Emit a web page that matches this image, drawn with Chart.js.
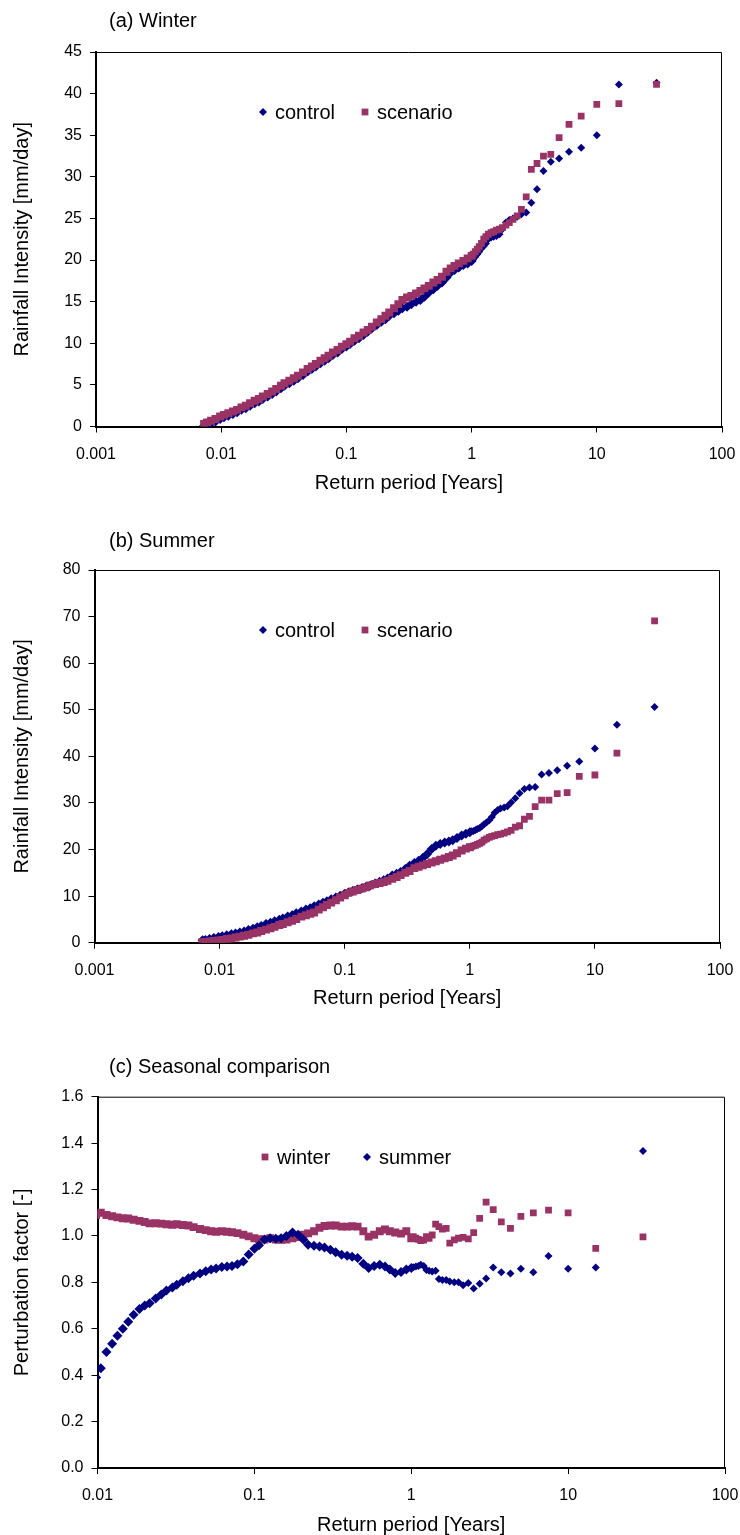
<!DOCTYPE html>
<html>
<head>
<meta charset="utf-8">
<title>Rainfall intensity and perturbation factor vs return period</title>
<script src="https://cdn.jsdelivr.net/npm/chart.js@4.4.1/dist/chart.umd.min.js"></script>
<style>
  body { margin: 0; background: #fff; width: 740px; height: 1535px; position: relative; overflow: hidden;
         font-family: "Liberation Sans", Arial, sans-serif; }
  canvas { position: absolute; left: 0; }
  .ptitle { position: absolute; left: 109px; font-size: 20px; line-height: 24px; color: #000; }
</style>
</head>
<body>
<canvas id="chartA" width="740" height="505" style="top:0px"></canvas>
<canvas id="chartB" width="740" height="520" style="top:505px"></canvas>
<canvas id="chartC" width="740" height="512" style="top:1025px"></canvas>
<div class="ptitle" style="top:8px">(a) Winter</div>
<div class="ptitle" style="top:528px">(b) Summer</div>
<div class="ptitle" style="top:1054px">(c) Seasonal comparison</div>

<script>
// return periods [years], rank order (largest first) - shared by all panels
var returnPeriod = [
  30, 15, 10, 7.5, 6, 5, 4.29, 3.75, 3.33, 3,
  2.73, 2.5, 2.31, 2.14, 2, 1.88, 1.76, 1.67, 1.58, 1.5,
  1.43, 1.36, 1.3, 1.25, 1.2, 1.15, 1.11, 1.07, 1.03, 1.0,
  0.93, 0.86, 0.79, 0.73, 0.68, 0.63, 0.58, 0.535, 0.495, 0.455,
  0.42, 0.39, 0.36, 0.33, 0.305, 0.28, 0.26, 0.24, 0.22, 0.205,
  0.19, 0.175, 0.16, 0.148, 0.137, 0.126, 0.116, 0.107, 0.1, 0.092,
  0.085, 0.078, 0.072, 0.067, 0.062, 0.057, 0.053, 0.049, 0.045, 0.041,
  0.038, 0.035, 0.032, 0.03, 0.0275, 0.0255, 0.0235, 0.0215, 0.02, 0.0185,
  0.017, 0.0157, 0.0145, 0.0134, 0.0124, 0.0114, 0.0105, 0.0098, 0.009, 0.0083,
  0.0077, 0.0073
];

// (a) winter rainfall intensity [mm/day]
var winterControl = [
  41.3, 41.1, 35.0, 33.5, 33.0, 32.2, 31.8, 30.7, 28.5, 26.9,
  25.7, 25.5, 25.2, 25.0, 24.8, 24.5, 23.7, 23.1, 22.9, 22.8,
  22.7, 22.5, 22.0, 21.7, 21.4, 21.0, 20.7, 20.4, 20.1, 19.9,
  19.6, 19.4, 19.1, 18.8, 18.5, 17.9, 17.3, 16.9, 16.5, 16.1,
  15.6, 15.2, 15.0, 14.7, 14.4, 14.2, 13.9, 13.6, 13.3, 12.9,
  12.6, 12.2, 11.8, 11.4, 11.0, 10.6, 10.3, 9.9, 9.6, 9.3,
  8.9, 8.6, 8.2, 7.9, 7.6, 7.2, 6.9, 6.6, 6.2, 5.8,
  5.5, 5.2, 4.9, 4.6, 4.2, 3.9, 3.6, 3.3, 3.0, 2.8,
  2.5, 2.2, 2.0, 1.7, 1.5, 1.3, 1.1, 0.9, 0.6, 0.4,
  0.2, 0.1
];
var winterScenario = [
  41.1, 38.8, 38.7, 37.3, 36.3, 34.7, 32.7, 32.5, 31.6, 30.9,
  27.6, 26.1, 25.3, 24.9, 24.5, 24.2, 23.9, 23.7, 23.6, 23.4,
  23.3, 23.1, 22.8, 22.5, 22.0, 21.6, 21.3, 21.0, 20.7, 20.5,
  20.2, 19.9, 19.6, 19.3, 19.0, 18.6, 18.0, 17.6, 17.3, 16.9,
  16.6, 16.3, 16.0, 15.7, 15.5, 15.2, 14.7, 14.2, 13.7, 13.3,
  12.9, 12.5, 12.0, 11.6, 11.3, 10.9, 10.6, 10.2, 9.9, 9.6,
  9.2, 8.9, 8.5, 8.2, 7.9, 7.5, 7.2, 6.9, 6.5, 6.1,
  5.8, 5.5, 5.2, 4.9, 4.5, 4.2, 3.9, 3.6, 3.3, 3.1,
  2.8, 2.5, 2.3, 2.0, 1.8, 1.6, 1.4, 1.2, 0.9, 0.7,
  0.5, 0.3
];

// (b) summer rainfall intensity [mm/day]
var summerControl = [
  50.6, 46.8, 41.7, 38.9, 38.0, 37.0, 36.4, 36.1, 33.4, 33.3,
  33.0, 32.1, 31.0, 30.1, 29.3, 29.0, 28.8, 28.5, 27.9, 27.0,
  26.3, 25.8, 25.4, 25.0, 24.6, 24.4, 24.2, 24.0, 23.9, 23.7,
  23.4, 23.0, 22.5, 22.0, 21.7, 21.5, 21.2, 20.8, 20.1, 19.0,
  18.2, 17.6, 17.1, 16.5, 15.8, 15.2, 14.8, 14.4, 13.8, 13.4,
  13.1, 12.7, 12.3, 12.0, 11.7, 11.4, 11.1, 10.8, 10.5, 10.1,
  9.7, 9.3, 8.9, 8.6, 8.2, 7.8, 7.4, 7.1, 6.7, 6.3,
  5.9, 5.6, 5.2, 4.9, 4.6, 4.3, 4.0, 3.6, 3.3, 3.0,
  2.7, 2.4, 2.2, 2.0, 1.8, 1.6, 1.4, 1.2, 1.0, 0.8,
  0.6, 0.5
];
var summerScenario = [
  69.1, 40.7, 36.0, 35.7, 32.2, 32.0, 30.6, 30.6, 29.2, 27.1,
  26.5, 25.1, 24.8, 24.1, 23.8, 23.5, 23.3, 23.2, 23.0, 22.8,
  22.6, 22.3, 22.0, 21.6, 21.3, 21.1, 20.9, 20.8, 20.6, 20.5,
  20.2, 19.8, 19.2, 18.7, 18.4, 18.1, 17.8, 17.5, 17.2, 16.9,
  16.6, 16.3, 16.0, 15.4, 15.0, 14.5, 14.1, 13.7, 13.3, 13.0,
  12.8, 12.6, 12.3, 11.9, 11.6, 11.3, 11.0, 10.7, 10.2, 9.7,
  9.1, 8.6, 8.1, 7.6, 7.1, 6.5, 6.2, 5.9, 5.6, 5.1,
  4.7, 4.4, 4.0, 3.8, 3.4, 3.1, 2.8, 2.5, 2.2, 2.0,
  1.7, 1.5, 1.3, 1.1, 0.9, 0.8, 0.6, 0.5, 0.35, 0.25,
  0.18, 0.12
];

// (c) perturbation factor [-] (scenario / control), below 0.01 yr not shown
var winterFactor = [
  0.996, 0.946, 1.099, 1.111, 1.099, 1.084, 1.033, 1.061, 1.113, 1.146,
  1.076, 1.014, 0.987, 0.994, 0.99, 0.983, 0.969, 1.033, 1.029, 1.04,
  1.051, 1.004, 0.99, 0.997, 0.982, 0.98, 0.985, 0.99, 0.997, 0.99,
  1.02, 1.01, 1.015, 1.02, 1.028, 1.02, 1.005, 0.997, 1.02, 1.04,
  1.042, 1.04, 1.04, 1.045, 1.045, 1.043, 1.035, 1.02, 1.011, 1.005,
  0.995, 0.99, 0.985, 0.983, 0.985, 0.99, 0.985, 0.986, 0.99, 0.998,
  1.005, 1.012, 1.016, 1.018, 1.02, 1.018, 1.02, 1.025, 1.03, 1.038,
  1.045, 1.047, 1.05, 1.048, 1.05, 1.053, 1.055, 1.054, 1.06, 1.065,
  1.07, 1.075, 1.076, 1.08, 1.085, 1.09, 1.1, 1.09, null, null,
  null, null
];
var summerFactor = [
  1.366, 0.864, 0.859, 0.914, 0.844, 0.859, 0.838, 0.844, 0.864, 0.817,
  0.794, 0.774, 0.797, 0.788, 0.80, 0.80, 0.804, 0.81, 0.81, 0.814,
  0.85, 0.847, 0.85, 0.853, 0.87, 0.876, 0.87, 0.868, 0.865, 0.862,
  0.855, 0.845, 0.84, 0.855, 0.868, 0.876, 0.87, 0.862, 0.88, 0.905,
  0.91, 0.915, 0.919, 0.93, 0.94, 0.95, 0.955, 0.958, 0.962, 0.985,
  1.005, 1.015, 1.0, 0.99, 0.988, 0.99, 0.985, 0.96, 0.945, 0.92,
  0.89, 0.878, 0.87, 0.868, 0.866, 0.86, 0.855, 0.848, 0.838, 0.828,
  0.818, 0.805, 0.79, 0.778, 0.765, 0.748, 0.73, 0.71, 0.70, 0.685,
  0.66, 0.63, 0.60, 0.57, 0.535, 0.50, 0.43, 0.39, null, null,
  null, null
];

var xTicksAB = [0.001, 0.01, 0.1, 1, 10, 100];
var xTicksC = [0.01, 0.1, 1, 10, 100];

var NAVY = '#000080';
var PLUM = '#993366';
var FONT = '"Liberation Sans", Arial, sans-serif';

Chart.defaults.font.family = FONT;
Chart.defaults.color = '#000';

function points(values) {
  var out = [];
  returnPeriod.forEach(function (t, i) {
    if (values[i] !== null) out.push({ x: t, y: values[i] });
  });
  return out;
}

// below 1 year the ranks are so close that the markers merge into a band
function markerSize(small, big) {
  return function (c) { return c.raw && c.raw.x < 1.02 ? big : small; };
}

function diamondSet(label, values, order) {
  return { label: label, data: points(values), order: order,
    pointStyle: 'rectRot', pointRadius: markerSize(4, 5), pointBorderWidth: 0,
    pointBackgroundColor: NAVY, backgroundColor: NAVY, borderColor: NAVY, showLine: false };
}
function squareSet(label, values, order) {
  return { label: label, data: points(values), order: order,
    pointStyle: 'rect', pointRadius: markerSize(4.8, 5.6), pointBorderWidth: 0,
    pointBackgroundColor: PLUM, backgroundColor: PLUM, borderColor: PLUM, showLine: false };
}

function drawMarker(ctx, style, x, y, color) {
  ctx.fillStyle = color;
  ctx.beginPath();
  if (style === 'rectRot') {
    ctx.moveTo(x, y - 4); ctx.lineTo(x + 4, y); ctx.lineTo(x, y + 4); ctx.lineTo(x - 4, y);
  } else {
    ctx.rect(x - 3.4, y - 3.4, 6.8, 6.8);
  }
  ctx.closePath();
  ctx.fill();
}

// thin frame on top/right of the plot area + legend placed inside the plot
var framePlugin = {
  id: 'frameLegend',
  afterDraw: function (chart, args, opts) {
    var a = chart.chartArea, ctx = chart.ctx;
    ctx.save();
    ctx.strokeStyle = '#000';
    ctx.lineWidth = 1;
    ctx.beginPath();
    ctx.moveTo(a.left, a.top + 0.5); ctx.lineTo(a.right - 0.5, a.top + 0.5); ctx.lineTo(a.right - 0.5, a.bottom);
    ctx.stroke();
    ctx.font = '20px ' + FONT;
    ctx.textBaseline = 'middle';
    (opts.items || []).forEach(function (it) {
      var ds = chart.data.datasets[it.dataset];
      drawMarker(ctx, ds.pointStyle, it.x, it.y, ds.pointBackgroundColor);
      ctx.fillStyle = '#000';
      ctx.fillText(ds.label, it.x + 12, it.y + 1);
    });
    ctx.restore();
  }
};

function makeChart(id, p) {
  return new Chart(document.getElementById(id), {
    type: 'scatter',
    data: { datasets: p.datasets },
    plugins: [framePlugin],
    options: {
      responsive: false,
      animation: false,
      events: [],
      layout: { padding: { top: p.padTop, right: p.padRight, left: 0, bottom: 0 } },
      plugins: {
        legend: { display: false },
        tooltip: { enabled: false },
        frameLegend: { items: p.legend }
      },
      scales: {
        x: {
          type: 'logarithmic',
          position: 'bottom',
          min: p.xTicks[0],
          max: p.xTicks[p.xTicks.length - 1],
          afterBuildTicks: function (s) { s.ticks = p.xTicks.map(function (v) { return { value: v }; }); },
          afterFit: function (s) { s.height = p.xHeight; s.paddingLeft = 0; s.paddingRight = 0; },
          ticks: { autoSkip: false, maxRotation: 0, padding: 12, font: { size: 16 },
                   callback: function (v) { return String(v); } },
          grid: { drawOnChartArea: false, drawTicks: true, tickLength: 6, color: '#000' },
          border: { display: true, color: '#000', width: 2 },
          title: { display: true, text: 'Return period [Years]', font: { size: 20 },
                   padding: { top: 0, bottom: p.xTitlePad } }
        },
        y: {
          type: 'linear',
          min: p.yMin,
          max: p.yMax,
          afterFit: function (s) { s.width = p.yWidth; },
          ticks: { stepSize: p.yStep, padding: 8, font: { size: 16 }, callback: p.yFormat },
          grid: { drawOnChartArea: false, drawTicks: true, tickLength: 6, color: '#000' },
          border: { display: true, color: '#000', width: 2 },
          title: { display: true, text: p.yTitle, font: { size: 20 }, padding: { top: 10, bottom: 0 } }
        }
      }
    }
  });
}

function intLabel(v) { return String(v); }
function oneDecimal(v) { return v.toFixed(1); }

makeChart('chartA', {
  datasets: [diamondSet('control', winterControl, 1), squareSet('scenario', winterScenario, 0)],
  legend: [{ dataset: 0, x: 263, y: 112 }, { dataset: 1, x: 365, y: 112 }],
  xTicks: xTicksAB, padTop: 52, padRight: 18, xHeight: 78.5, xTitlePad: 10, yWidth: 96,
  yMin: 0, yMax: 45, yStep: 5, yFormat: intLabel, yTitle: 'Rainfall Intensity [mm/day]'
});

makeChart('chartB', {
  datasets: [diamondSet('control', summerControl, 1), squareSet('scenario', summerScenario, 0)],
  legend: [{ dataset: 0, x: 263, y: 125 }, { dataset: 1, x: 365, y: 125 }],
  xTicks: xTicksAB, padTop: 65, padRight: 20, xHeight: 82.3, xTitlePad: 14.7, yWidth: 94.5,
  yMin: 0, yMax: 80, yStep: 10, yFormat: intLabel, yTitle: 'Rainfall Intensity [mm/day]'
});

makeChart('chartC', {
  datasets: [squareSet('winter', winterFactor, 1), diamondSet('summer', summerFactor, 0)],
  legend: [{ dataset: 0, x: 265, y: 132 }, { dataset: 1, x: 367, y: 132 }],
  xTicks: xTicksC, padTop: 71.7, padRight: 15, xHeight: 69, xTitlePad: 0, yWidth: 97.5,
  yMin: 0, yMax: 1.6, yStep: 0.2, yFormat: oneDecimal, yTitle: 'Perturbation factor [-]'
});
</script>
</body>
</html>
